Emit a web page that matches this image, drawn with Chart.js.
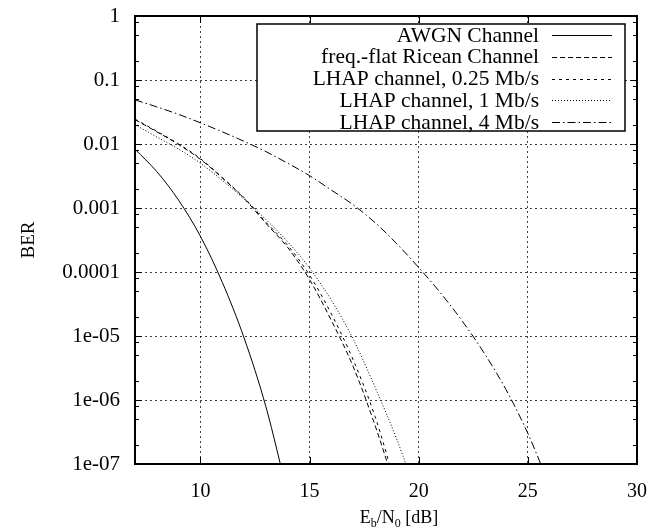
<!DOCTYPE html>
<html>
<head>
<meta charset="utf-8">
<script src="https://cdn.jsdelivr.net/npm/chart.js@4"></script>
<style>
  html, body { margin: 0; padding: 0; background: #fff; }
  #wrap { width: 657px; height: 529px; }
</style>
</head>
<body>
<div id="wrap"><canvas id="ber"></canvas></div>
<script>
// Eb/N0 sample points in dB (each curve uses the first n of them)
const ebno = [7, 8, 9, 10, 11, 12, 13, 14, 15, 16, 17, 18, 19, 20, 21, 22, 23, 24, 25, 26];

// bit error rates
const awgn = [8.3e-3, 3.7e-3, 1.32e-3, 3.6e-4, 6.9e-5, 9.3e-6, 7.8e-7, 3.3e-8];
const ricean = [2.4e-2, 1.55e-2, 9.8e-3, 5.75e-3, 2.95e-3, 1.41e-3, 5.75e-4, 2.4e-4, 7.6e-5, 1.74e-5, 3.3e-6, 4.0e-7, 3.5e-8];
const lhap025 = [2.45e-2, 1.58e-2, 1.0e-2, 5.9e-3, 3.0e-3, 1.45e-3, 6.0e-4, 2.6e-4, 8.9e-5, 2.2e-5, 4.2e-6, 5.5e-7, 4.0e-8];
const lhap1 = [2.0e-2, 1.29e-2, 8.3e-3, 5.0e-3, 2.7e-3, 1.38e-3, 6.6e-4, 2.95e-4, 1.15e-4, 3.6e-5, 8.9e-6, 1.58e-6, 2.4e-7, 2.7e-8];
const lhap4 = [4.9e-2, 3.8e-2, 2.9e-2, 2.14e-2, 1.55e-2, 1.1e-2, 7.6e-3, 5.0e-3, 3.2e-3, 1.9e-3, 1.12e-3, 5.9e-4, 2.75e-4, 1.17e-4, 4.7e-5, 1.7e-5, 5.4e-6, 1.45e-6, 3.0e-7, 4.5e-8];

const seriesNames = ['AWGN Channel', 'freq.-flat Ricean Channel', 'LHAP channel, 0.25 Mb/s', 'LHAP channel, 1 Mb/s', 'LHAP channel, 4 Mb/s'];

// axis ticks
const xTicks = [10, 15, 20, 25, 30];
const yTicks = [1e-7, 1e-6, 1e-5, 1e-4, 1e-3, 1e-2, 1e-1, 1];
const yTickLabels = ['1e-07', '1e-06', '1e-05', '0.0001', '0.001', '0.01', '0.1', '1'];
const yMinor = [2, 5, 8];

const FONT = '"Liberation Serif", "Times New Roman", serif';

function pts(arr) {
  return arr.map((v, i) => ({ x: ebno[i], y: v }));
}

function isDecade(v) {
  return yTicks.some(t => Math.abs(v / t - 1) < 1e-6);
}

// keep the plot box where the layout padding puts it
function noLabelPadding(s) {
  s.paddingLeft = s.paddingRight = s.paddingTop = s.paddingBottom = 0;
}

const dashes = [[], [5, 3], [3, 4], [1, 2], [8, 3, 1.5, 3]];
const series = [awgn, ricean, lhap025, lhap1, lhap4];

const datasets = series.map((s, i) => ({
  label: seriesNames[i],
  data: pts(s),
  borderColor: '#000',
  borderWidth: 1,
  borderDash: dashes[i],
  pointRadius: 0,
  fill: false,
  cubicInterpolationMode: 'monotone'
}));

// frame, inward tick marks and the key box
const framePlugin = {
  id: 'frame',
  afterDatasetsDraw(chart) {
    const ctx = chart.ctx;
    const a = chart.chartArea;
    const xs = chart.scales.x, ys = chart.scales.y;
    ctx.save();
    ctx.strokeStyle = '#000';
    ctx.lineWidth = 1;
    ctx.beginPath();
    xTicks.forEach(v => {
      const px = Math.round(xs.getPixelForValue(v)) + 0.5;
      ctx.moveTo(px, a.bottom); ctx.lineTo(px, a.bottom - 7);
      ctx.moveTo(px, a.top); ctx.lineTo(px, a.top + 7);
    });
    ys.ticks.forEach(t => {
      const len = isDecade(t.value) ? 7 : 4;
      const py = Math.round(ys.getPixelForValue(t.value)) + 0.5;
      ctx.moveTo(a.left, py); ctx.lineTo(a.left + len, py);
      ctx.moveTo(a.right, py); ctx.lineTo(a.right - len, py);
    });
    ctx.stroke();
    ctx.lineWidth = 2;
    ctx.strokeRect(a.left, a.top, a.right - a.left, a.bottom - a.top);

    // key
    const right = a.right - 12, top = a.top + 8;
    const left = right - 368, bottom = top + 107;
    ctx.fillStyle = '#fff';
    ctx.fillRect(left, top, right - left, bottom - top);
    ctx.lineWidth = 1.5;
    ctx.strokeRect(left, top, right - left, bottom - top);
    ctx.font = '21.5px ' + FONT;
    ctx.textAlign = 'right';
    ctx.textBaseline = 'middle';
    ctx.fillStyle = '#000';
    chart.data.datasets.forEach((ds, i) => {
      const y = top + 11 + i * 21.8;
      ctx.fillText(ds.label, right - 86, y + 1);
      ctx.lineWidth = 1;
      ctx.setLineDash(ds.borderDash);
      ctx.beginPath();
      ctx.moveTo(right - 73, Math.round(y) + 0.5);
      ctx.lineTo(right - 13, Math.round(y) + 0.5);
      ctx.stroke();
      ctx.setLineDash([]);
    });

    // x title with subscripts, centred a little right of the plot middle
    ctx.textAlign = 'left';
    ctx.textBaseline = 'alphabetic';
    const parts = [['E', 18, 0], ['b', 12, 4], ['/N', 18, 0], ['0', 12, 4], [' [dB]', 18, 0]];
    let w = 0;
    parts.forEach(p => { ctx.font = p[1] + 'px ' + FONT; w += ctx.measureText(p[0]).width; });
    let x = 399 - w / 2;
    parts.forEach(p => {
      ctx.font = p[1] + 'px ' + FONT;
      ctx.fillText(p[0], x, 522.5 + p[2]);
      x += ctx.measureText(p[0]).width;
    });

    ctx.font = '19px ' + FONT;
    ctx.textAlign = 'center';
    ctx.translate(34, (a.top + a.bottom) / 2);
    ctx.rotate(-Math.PI / 2);
    ctx.fillText('BER', 0, 0);
    ctx.restore();
  }
};

new Chart(document.getElementById('ber').getContext('2d'), {
  type: 'line',
  data: { datasets: datasets },
  options: {
    responsive: true,
    maintainAspectRatio: false,
    animation: false,
    events: [],
    layout: { padding: { top: 16, right: 20, left: 0, bottom: 0 } },
    plugins: { legend: { display: false }, tooltip: { enabled: false } },
    scales: {
      x: {
        type: 'linear',
        min: 7,
        max: 30,
        afterBuildTicks: s => { s.ticks = xTicks.map(v => ({ value: v })); },
        afterFit: s => { s.height = 65; noLabelPadding(s); },
        grid: {
          drawTicks: false,
          color: c => (c.tick && c.tick.value < 30 ? 'rgba(0,0,0,0.75)' : 'transparent'),
          lineWidth: 1
        },
        border: { display: false, dash: [2, 3] },
        ticks: {
          color: '#000',
          padding: 16,
          maxRotation: 0,
          autoSkip: false,
          font: { family: FONT, size: 20 }
        }
      },
      y: {
        type: 'logarithmic',
        min: 1e-7,
        max: 1,
        afterBuildTicks: s => {
          const t = [];
          yTicks.forEach((d, i) => {
            t.push({ value: d });
            if (i < yTicks.length - 1) yMinor.forEach(m => t.push({ value: d * m }));
          });
          s.ticks = t;
        },
        afterFit: s => { s.width = 135; noLabelPadding(s); },
        grid: {
          drawTicks: false,
          color: c => {
            const v = c.tick && c.tick.value;
            return v && isDecade(v) && v > 1.5e-7 && v < 0.9 ? 'rgba(0,0,0,0.75)' : 'transparent';
          },
          lineWidth: 1
        },
        border: { display: false, dash: [2, 3] },
        ticks: {
          color: '#000',
          padding: 15,
          autoSkip: false,
          font: { family: FONT, size: 21 },
          callback: v => {
            const i = yTicks.findIndex(t => Math.abs(v / t - 1) < 1e-6);
            return i >= 0 ? yTickLabels[i] : '';
          }
        }
      }
    }
  },
  plugins: [framePlugin]
});
</script>
</body>
</html>
